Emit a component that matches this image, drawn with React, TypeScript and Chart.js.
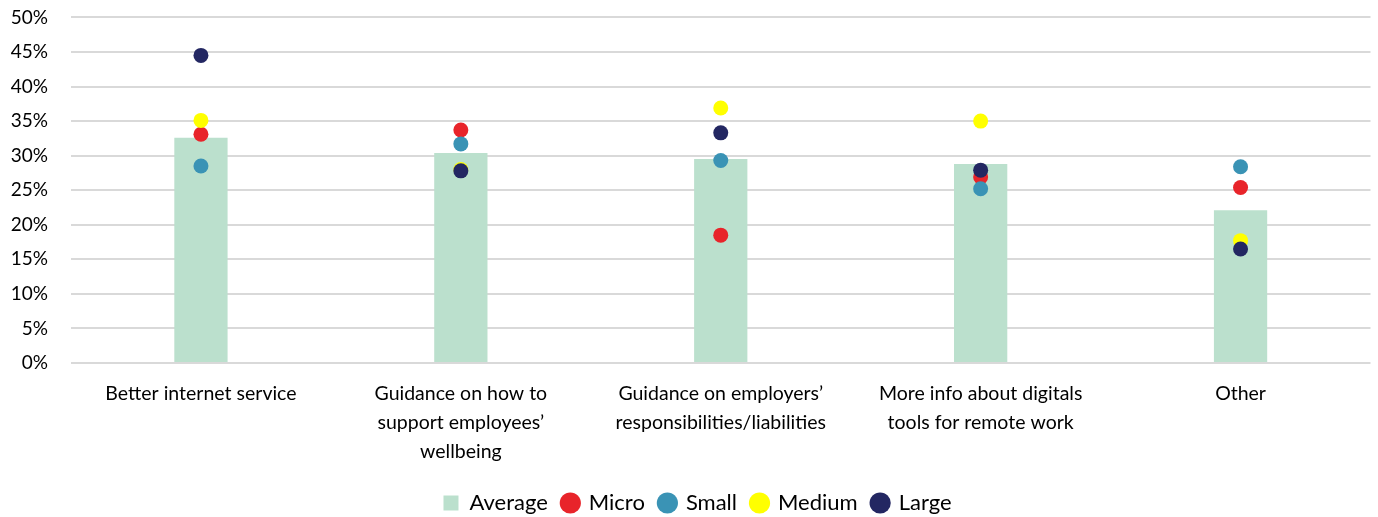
import React, { useEffect, useRef } from "react";
import { Chart, registerables } from "chart.js";

Chart.register(...registerables);

const categories: string[][] = [
  ["Better internet service"],
  ["Guidance on how to", "support employees’", "wellbeing"],
  ["Guidance on employers’", "responsibilities/liabilities"],
  ["More info about digitals", "tools for remote work"],
  ["Other"],
];
const average = [32.6, 30.4, 29.5, 28.8, 22.1];
const micro = [33.1, 33.7, 18.5, 26.9, 25.4];
const small = [28.5, 31.7, 29.3, 25.2, 28.4];
const medium = [35.1, 28.0, 36.9, 35.0, 17.7];
const large = [44.5, 27.8, 33.3, 27.9, 16.5];
const yTicks = [0, 5, 10, 15, 20, 25, 30, 35, 40, 45, 50];

const FONT = "Lato, 'Open Sans', sans-serif";

const legendShift = {
  id: "legendShift",
  afterLayout(chart: any) {
    const l = chart.legend;
    if (l) {
      l.left += 12;
      l.right += 12;
    }
  },
};

export default function App() {
  const ref = useRef<HTMLCanvasElement | null>(null);
  useEffect(() => {
    if (!ref.current) return;
    const pointDs = (label: string, data: number[], color: string, order: number) => ({
      type: "line" as const,
      label,
      data,
      order,
      showLine: false,
      backgroundColor: color,
      borderColor: color,
      borderWidth: 0,
      pointRadius: 7.5,
      pointHoverRadius: 7.5,
      pointStyle: "circle",
    });
    const chart = new Chart(ref.current, {
      type: "bar",
      plugins: [legendShift],
      data: {
        labels: categories,
        datasets: [
          {
            type: "bar",
            label: "Average",
            data: average,
            order: 10,
            backgroundColor: "#BBE0CD",
            categoryPercentage: 1,
            barPercentage: 0.205,
            pointStyle: "rect",
          } as any,
          pointDs("Micro", micro, "#E8242A", 4),
          pointDs("Small", small, "#3A93B5", 3),
          pointDs("Medium", medium, "#FFFF00", 2),
          pointDs("Large", large, "#232762", 1),
        ],
      },
      options: {
        responsive: false,
        animation: false,
        maintainAspectRatio: false,
        layout: { padding: { top: -8, right: 7, left: 0, bottom: -7 } },
        plugins: {
          tooltip: { enabled: false },
          legend: {
            position: "bottom",
            labels: {
              usePointStyle: true,
              boxWidth: 15,
              boxHeight: 15,
              padding: 15,
              color: "#000",
              font: { family: FONT, size: 22 },
              sort: (a: any, b: any) => a.datasetIndex - b.datasetIndex,
            },
          },
        },
        scales: {
          x: {
            grid: { display: false, drawTicks: false },
            border: { display: false },
            ticks: {
              color: "#000",
              font: { family: FONT, size: 19.5, lineHeight: 1.5 },
              maxRotation: 0,
              autoSkip: false,
              padding: 16,
            },
            afterFit: (s: any) => {
              s.height = 114;
            },
          },
          y: {
            min: 0,
            max: 50,
            afterBuildTicks: (s: any) => {
              s.ticks = yTicks.map((v) => ({ value: v }));
            },
            grid: { color: "#D9D9D9", lineWidth: 2, drawTicks: false },
            border: { display: false },
            ticks: {
              color: "#000",
              font: { family: FONT, size: 19 },
              padding: 23,
              callback: (v: any) => v + "%",
            },
            afterFit: (s: any) => {
              s.width = 71;
            },
          },
        },
      },
    } as any);
    return () => chart.destroy();
  }, []);
  return (
    <div style={{ position: "absolute", left: 0, top: -17, width: 1378, height: 534, background: "#fff" }}>
      <canvas ref={ref} width={1378} height={534} />
    </div>
  );
}
